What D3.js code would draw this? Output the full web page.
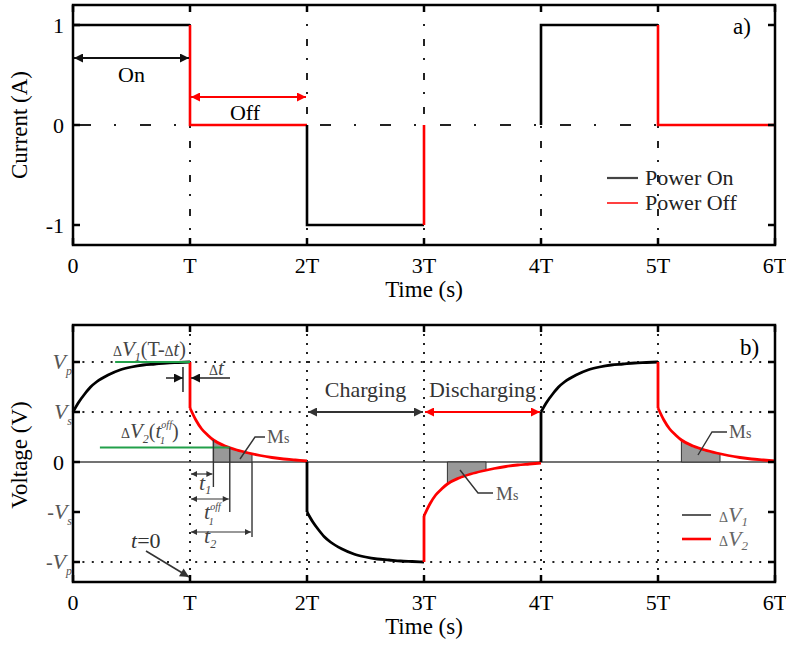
<!DOCTYPE html>
<meta charset="utf-8">
<script src="https://d3js.org/d3.v7.min.js"></script>
<style>
  body { margin: 0; background: #fff; }
  text { font-family: "Liberation Serif", "Times New Roman", serif; }
</style>
<div id="chart"></div>
<script>
// x ticks shared by both panels (multiples of the period T)
var periods = [0, 1, 2, 3, 4, 5, 6];
var periodLabels = ["0", "T", "2T", "3T", "4T", "5T", "6T"];

// panel a: current level in each interval [kT, (k+1)T]
var currentLevel = [1, 0, -1, 0, 1, 0];
var levelDrawn = [true, true, true, false, true, true];
var currentTicks = [1, 0, -1];

// panel b: voltage curves (fraction of T -> value in units of Vp)
var curveT = [0, 0.05, 0.1, 0.15, 0.2, 0.3, 0.4, 0.5, 0.6, 0.7, 0.8, 0.9, 1.0];
var chargeV = [0.5, 0.6, 0.68, 0.75, 0.8, 0.87, 0.92, 0.95, 0.97, 0.98, 0.99, 0.995, 1.0];
var dischargeV = [0.54, 0.42, 0.33, 0.27, 0.22, 0.16, 0.12, 0.09, 0.065, 0.045, 0.03, 0.02, 0.01];
var segKind = ["charge", "discharge", "charge", "discharge", "charge", "discharge"];
var segSign = [1, 1, -1, -1, 1, 1];
var voltTicks = [1, 0.5, 0, -0.5, -1];
var voltLabels = [["", "V", "p"], ["", "V", "s"], ["0", "", ""], ["-", "V", "s"], ["-", "V", "p"]];
var voltGrid = [1, 0.5, -1];
// Ms window inside each off period: t1, t1off, t2
var msT1 = 0.2, msT1off = 0.34, msT2 = 0.53;

var svg = d3.select("#chart").append("svg")
    .attr("width", 786)
    .attr("height", 650);

var x = d3.scaleLinear().domain([0, 6]).range([73, 775]);
var ya = d3.scaleLinear().domain([-1.2, 1.2]).range([245, 5]);
var yb = d3.scaleLinear().domain([-1.2, 1.37]).range([582, 325]);

// arrow heads
var defs = svg.append("defs");
[["arBlack", "#111", 12, 9], ["arRed", "#ff0000", 12, 9], ["arGray", "#333", 12, 9], ["arSmall", "#333", 7, 6]]
  .forEach(function(m) {
    defs.append("marker")
        .attr("id", m[0])
        .attr("viewBox", "0 0 10 10")
        .attr("refX", 10).attr("refY", 5)
        .attr("markerWidth", m[2]).attr("markerHeight", m[3])
        .attr("markerUnits", "userSpaceOnUse")
        .attr("orient", "auto-start-reverse")
      .append("path")
        .attr("d", "M0,0L10,5L0,10Z")
        .attr("fill", m[1]);
  });

function rich(g, px, py, parts, anchor, color) {
  var t = g.append("text")
      .attr("x", px).attr("y", py)
      .attr("text-anchor", anchor || "start")
      .attr("fill", color || "#000");
  parts.forEach(function(p) {
    var s = t.append("tspan").text(p.t).style("font-size", (p.s || 22) + "px");
    if (p.i) s.style("font-style", "italic");
    if (p.dy) s.attr("dy", p.dy);
    if (p.dx) s.attr("dx", p.dx);
  });
  return t;
}

function line(g, x1, y1, x2, y2, color, w) {
  return g.append("line")
      .attr("x1", x1).attr("y1", y1).attr("x2", x2).attr("y2", y2)
      .attr("stroke", color).attr("stroke-width", w);
}

function frame(g, y, top, bottom, ticks) {
  g.append("rect")
      .attr("x", x(0)).attr("y", top)
      .attr("width", x(6) - x(0)).attr("height", bottom - top)
      .attr("fill", "none").attr("stroke", "#000").attr("stroke-width", 2.5);
  periods.forEach(function(k) {
    line(g, x(k), top, x(k), top + 7, "#000", 2.5);
    line(g, x(k), bottom, x(k), bottom - 7, "#000", 2.5);
    g.append("text")
        .attr("x", x(k)).attr("y", bottom + 28)
        .attr("text-anchor", "middle")
        .style("font-size", "22px")
        .text(periodLabels[k]);
  });
  ticks.forEach(function(v) {
    line(g, x(0), y(v), x(0) + 7, y(v), "#000", 2.5);
    line(g, x(6), y(v), x(6) - 7, y(v), "#000", 2.5);
  });
  g.append("text")
      .attr("x", x(3)).attr("y", bottom + 52)
      .attr("text-anchor", "middle")
      .style("font-size", "23px")
      .text("Time (s)");
}

// ---------------- panel a ----------------
var ga = svg.append("g");

periods.slice(1, 6).forEach(function(k) {
  line(ga, x(k), ya(1.2), x(k), ya(-1.2), "#222", 2).attr("stroke-dasharray", "7,12,2,13");
});
line(ga, x(0), ya(0), x(6), ya(0), "#222", 2)
    .attr("stroke-dasharray", "11,23,2,24").attr("stroke-dashoffset", -7);

currentLevel.forEach(function(L, k) {
  var prev = k > 0 ? currentLevel[k - 1] : L;
  var d = "M" + x(k) + "," + ya(prev) + "V" + ya(L);
  if (levelDrawn[k]) d += "H" + x(k + 1);
  ga.append("path")
      .attr("d", d)
      .attr("fill", "none")
      .attr("stroke", L !== 0 ? "#000" : "#ff0000")
      .attr("stroke-width", 2.6);
});

frame(ga, ya, ya(1.2), ya(-1.2), currentTicks);

currentTicks.forEach(function(v) {
  ga.append("text")
      .attr("x", 64).attr("y", ya(v) + 8)
      .attr("text-anchor", "end")
      .style("font-size", "22px")
      .text(v);
});

ga.append("text")
    .attr("transform", "translate(27," + ya(0) + ")rotate(-90)")
    .attr("text-anchor", "middle")
    .style("font-size", "23px")
    .text("Current (A)");

ga.append("text").attr("x", 733).attr("y", 34).style("font-size", "23px").text("a)");

// On / Off arrows
line(ga, x(0) + 1, ya(0.67), x(1) - 1, ya(0.67), "#111", 2)
    .attr("marker-start", "url(#arBlack)").attr("marker-end", "url(#arBlack)");
ga.append("text").attr("x", x(0.5)).attr("y", ya(0.43))
    .attr("text-anchor", "middle").style("font-size", "22px").text("On");
line(ga, x(1) + 1, ya(0.28), x(2) - 1, ya(0.28), "#ff0000", 2)
    .attr("marker-start", "url(#arRed)").attr("marker-end", "url(#arRed)");
ga.append("text").attr("x", x(1.47)).attr("y", ya(0.05))
    .attr("text-anchor", "middle").style("font-size", "22px").text("Off");

// legend
[["Power On", "#444"], ["Power Off", "#ff0000"]].forEach(function(d, i) {
  var ly = 178 + i * 25;
  line(ga, 607, ly, 638, ly, d[1], i ? 1.5 : 2.2);
  ga.append("text").attr("x", 645).attr("y", ly + 7)
      .style("font-size", "22px").attr("fill", "#222").text(d[0]);
});

// ---------------- panel b ----------------
var gb = svg.append("g");

periods.slice(1, 6).forEach(function(k) {
  line(gb, x(k), yb(1.37), x(k), yb(-1.2), "#222", 2).attr("stroke-dasharray", "2,7");
});
voltGrid.forEach(function(v) {
  line(gb, x(0), yb(v), x(6), yb(v), "#222", 2).attr("stroke-dasharray", "2,7.4");
});
line(gb, x(0), yb(0), x(6), yb(0), "#444", 1.6);

var curve = d3.line()
    .x(function(d) { return x(d[0]); })
    .y(function(d) { return yb(d[1]); })
    .curve(d3.curveMonotoneX);

function valueAt(vals, f) {
  var i = d3.bisectRight(curveT, f) - 1;
  if (i >= curveT.length - 1) return vals[vals.length - 1];
  var u = (f - curveT[i]) / (curveT[i + 1] - curveT[i]);
  return vals[i] + u * (vals[i + 1] - vals[i]);
}

// shaded Ms regions under each discharge curve
segKind.forEach(function(kind, k) {
  if (kind !== "discharge") return;
  var s = segSign[k];
  var pts = [[k + msT1, 0], [k + msT1, s * valueAt(dischargeV, msT1)]];
  curveT.forEach(function(f, i) {
    if (f > msT1 && f < msT2) pts.push([k + f, s * dischargeV[i]]);
  });
  pts.push([k + msT2, s * valueAt(dischargeV, msT2)], [k + msT2, 0]);
  gb.append("path")
      .attr("d", d3.line().x(function(d) { return x(d[0]); }).y(function(d) { return yb(d[1]); })(pts) + "Z")
      .attr("fill", "#999").attr("stroke", "#333").attr("stroke-width", 1);
});

segKind.forEach(function(kind, k) {
  var vals = kind === "charge" ? chargeV : dischargeV;
  var pts = curveT.map(function(f, i) { return [k + f, segSign[k] * vals[i]]; });
  var color = kind === "charge" ? "#000" : "#ff0000";
  if (k > 0) {
    var from = kind === "charge" ? 0 : segSign[k];
    line(gb, x(k), yb(from), x(k), yb(pts[0][1]), color, 2.8);
  }
  gb.append("path")
      .attr("d", curve(pts))
      .attr("fill", "none")
      .attr("stroke", color)
      .attr("stroke-width", 2.8);
});

frame(gb, yb, yb(1.37), yb(-1.2), voltTicks);

voltTicks.forEach(function(v, i) {
  var lab = voltLabels[i];
  if (lab[0] === "0") {
    gb.append("text").attr("x", 64).attr("y", yb(v) + 8)
        .attr("text-anchor", "end").style("font-size", "22px").text("0");
  } else {
    rich(gb, 72, yb(v) + 7, [
      {t: lab[0], s: 20},
      {t: lab[1], s: 22, i: true},
      {t: lab[2], s: 12, i: true, dy: 6}
    ], "end", "#555");
  }
});

gb.append("text")
    .attr("transform", "translate(27,455)rotate(-90)")
    .attr("text-anchor", "middle")
    .style("font-size", "23px")
    .text("Voltage (V)");

gb.append("text").attr("x", 740).attr("y", 355).style("font-size", "23px").text("b)");

// Charging / Discharging
line(gb, x(2) + 1, yb(0.5), x(3) - 1, yb(0.5), "#333", 2)
    .attr("marker-start", "url(#arGray)").attr("marker-end", "url(#arGray)");
line(gb, x(3) + 1, yb(0.5), x(4) - 1, yb(0.5), "#ff0000", 2)
    .attr("marker-start", "url(#arRed)").attr("marker-end", "url(#arRed)");
gb.append("text").attr("x", x(2.5)).attr("y", yb(0.65))
    .attr("text-anchor", "middle").attr("fill", "#333").style("font-size", "22px").text("Charging");
gb.append("text").attr("x", x(3.5)).attr("y", yb(0.65))
    .attr("text-anchor", "middle").attr("fill", "#333").style("font-size", "22px").text("Discharging");

// dV1(T - dt)
line(gb, x(0.36), yb(1), x(1), yb(1), "#22a04a", 2);
rich(gb, 113, 356, [
  {t: "\u0394", s: 14},
  {t: "V", s: 21, i: true},
  {t: "1", s: 12, i: true, dy: 5},
  {t: "(T-", s: 20, dy: -5},
  {t: "\u0394", s: 14},
  {t: "t", s: 20, i: true},
  {t: ")", s: 20}
], "start", "#444");

// dt marker
line(gb, x(0.94), 367, x(0.94), 392, "#222", 1.5);
line(gb, 166, 378, x(0.94), 378, "#222", 1.5).attr("marker-end", "url(#arBlack)");
line(gb, 230, 378, x(1) + 1, 378, "#222", 1.5).attr("marker-end", "url(#arBlack)");
rich(gb, 209, 375, [{t: "\u0394", s: 14}, {t: "t", s: 21, i: true}], "start", "#444");

// dV2(t1off)
var v1off = valueAt(dischargeV, msT1off);
line(gb, x(0.23), yb(v1off), x(1 + msT1off), yb(v1off), "#22a04a", 2);
rich(gb, 121, 438, [
  {t: "\u0394", s: 14},
  {t: "V", s: 21, i: true},
  {t: "2", s: 12, i: true, dy: 5},
  {t: "(", s: 20, dy: -5},
  {t: "t", s: 21, i: true},
  {t: "off", s: 10, i: true, dy: -10},
  {t: "1", s: 10, i: true, dx: -12, dy: 16},
  {t: ")", s: 20, dx: 7, dy: -6}
], "start", "#444");

// t1, t1off, t2 brackets
[[msT1, valueAt(dischargeV, msT1), -0.25, -0.12],
 [msT1off, v1off, -0.5, -0.37],
 [msT2, 0, -0.75, -0.7]].forEach(function(b) {
  line(gb, x(1 + b[0]), yb(b[1]), x(1 + b[0]), yb(b[2]), "#333", 1.4);
  line(gb, x(1) + 1, yb(b[3]), x(1 + b[0]) - 1, yb(b[3]), "#333", 1.2)
      .attr("marker-start", "url(#arSmall)").attr("marker-end", "url(#arSmall)");
});
rich(gb, 199, 490, [{t: "t", s: 22, i: true}, {t: "1", s: 12, i: true, dy: 4}], "start", "#444");
rich(gb, 204, 519, [
  {t: "t", s: 22, i: true},
  {t: "off", s: 10, i: true, dy: -9},
  {t: "1", s: 10, i: true, dx: -12, dy: 15}
], "start", "#444");
rich(gb, 204, 543, [{t: "t", s: 22, i: true}, {t: "2", s: 12, i: true, dy: 5}], "start", "#444");

// t = 0
rich(gb, 131, 548, [{t: "t", s: 22, i: true}, {t: "=0", s: 22}], "start", "#333");
line(gb, 146, 551, x(1) - 1, 577, "#333", 1.6).attr("marker-end", "url(#arGray)");

// Ms leaders
[[[265, 437], [255, 437], [240, 459], 267, 443],
 [[460, 470], [478, 493], [493, 493], 496, 500],
 [[698, 455], [712, 432], [727, 432], 729, 438]].forEach(function(m) {
  gb.append("path")
      .attr("d", d3.line()([m[0], m[1], m[2]]))
      .attr("fill", "none").attr("stroke", "#333").attr("stroke-width", 1.4);
  rich(gb, m[3], m[4], [{t: "M", s: 19}, {t: "s", s: 14}], "start", "#555");
});

// legend
[["1", "#333"], ["2", "#ff0000"]].forEach(function(d, i) {
  var ly = 515 + i * 24;
  line(gb, 682, ly, 711, ly, d[1], i ? 2.6 : 1.6);
  rich(gb, 719, ly + 7, [
    {t: "\u0394", s: 14},
    {t: "V", s: 22, i: true},
    {t: d[0], s: 13, i: true, dy: 4}
  ], "start", "#666");
});
</script>
